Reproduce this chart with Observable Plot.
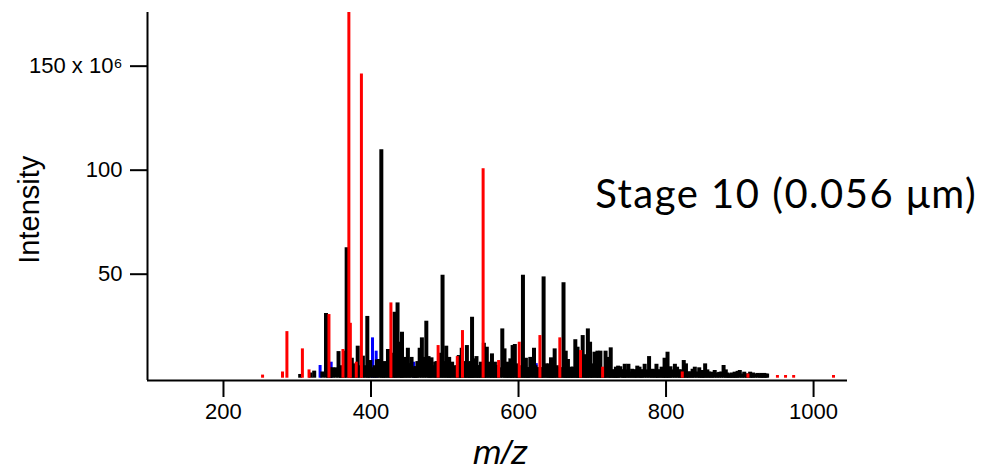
<!DOCTYPE html>
<html><head><meta charset="utf-8">
<script src="https://cdn.jsdelivr.net/npm/d3@7"></script>
<script src="https://cdn.jsdelivr.net/npm/@observablehq/plot@0.6"></script>
<style>body{margin:0;background:#fff;} svg{display:block}</style>
</head><body><div id="chart"></div>
<script>
// Black peaks (m/z, intensity x10^6)
const blackMz = [304,318,323,334,339,348,352,356,364,367,374,376,382,385,389,395,399,403,408,411,414,418,423,427,432,436,439,442,445,450,455,458,460,463,466,469,475,478,482,487,489,492,494,497,502,506,510,513,515,519,523,526,530,534,537,540,543,546,549,553,557,560,564,568,570,572,578,581,585,587,589,592,595,597,600,601,606,610,613,616,621,623,626,630,634,637,639,641,644,646,649,652,656,658,661,664,667,669,671,674,677,680,684,687,691,694,697,700,703,707,711,718,721,725,729,732,735,738,741,744,749,754,757,761,764,768,771,777,782,787,791,794,798,802,806,812,815,820,824,827,831,836,839,845,849,853,856,861,866,872,878,881,885,889,893,897,900,906,909,914,918,924,929,933,937,
  342,345,359,361,371,379,392,397,405,416,420,425,430,434,441,447,452,461,472,480,485,499,504,508,517,521,528,532,535,539,545,551,555,562,566,575,583,591,599,604,608,612,618,628,632,643,648,654,663,666,673,679,682,689,693,699,705,709,713,716,723,727,731,734,743,747,752,759,766,774,780,785,789,796,800,804,809,818,822,829,834,842,847,851,858,863,869,875,883,887,891,895,903,911,916,921,927,931,935];
const blackInt = [1.8,2.5,3.4,3,31.1,5,5,12.8,13,62.7,9.6,6.9,15.4,6,10.6,29.7,8.5,5,8.8,9,109.8,8,13.8,10,31.7,36.2,17.3,22.1,10,14.4,10,5,5.6,8,14.4,19.4,27.4,10.4,9.8,7.7,8,6,12,49.5,15.4,10,7.7,6,5,10.9,14.4,8,15.7,7.7,29.3,9.3,10.4,6,7.7,16.8,14.9,7.7,11.7,7.7,6,6,23.7,14.1,7.7,6,9.3,15.7,16.2,6.9,5,5,49.5,9.6,5,10,14.4,6,5,5,48.7,6.9,5,6.9,9.8,6,14.1,6,5,5,45.9,13,9,5,5.3,5.3,18.5,14.9,5,20.5,11.3,23.7,17.3,6.9,12.5,13,13,13,10,14.6,4,5.3,5.8,5.5,4,6.7,6.7,4.3,4,5.8,5.3,4,6.7,10.4,4.3,6.7,4,5.3,9.6,12.5,5.5,6.7,5.3,4,8.5,6.9,3,4.3,5.3,5,3.7,6.9,4,2.9,3.7,2.8,6.1,4,2,2.5,2.9,3.3,3.7,2.9,2,2.9,2.5,2.3,2.3,2.3,2,
  4,5,6,5,5,6,6,8,6,7,6,9,12,14,12,8,7,5,10,8,6,8,7,6,6,7,7,6,8,7,6,5,6,6,5,5,6,6,5,6,5,5,6,5,5,5,5,5,5,5,5,5,6,6,5,5,5,5,4,5,5,4,3,4,4,4,3,4,4,4,4,4,4,4,5,4,4,4,3,3,3,3,3,3,3,2.5,2.5,3,2.5,2,2,2,2,2,2,2,2,2,2];
// Red peaks
const redMz = [253,280,286,307,316,343,362,370,372,380,387,427,491,517,524,552,573,601,629,656,684,714,822,911,951,962,973,1027];
const redInt = [1.5,3,22.4,14.1,4,30.6,13.8,176,26.4,7.7,146.2,36.2,15.7,10.4,22.9,100.7,8.5,17.3,20.5,19.4,13.3,5.3,3,2,1.3,1.3,1.3,1.3];
// Blue peaks
const blueMz = [331,346,402,407,458,613,624,716];
const blueInt = [6.1,7.7,19.4,13,7.7,5,7,1.5];

const xTicks = [200,400,600,800,1000];
const yTicks = [50,100,150];
const yTickLabels = ["50","100","150 x 10\u2076"];
const xTitle = "m/z", yTitle = "Intensity";
const annotation = "Stage 10 (0.056 \u03BCm)";

const mk = (mz, v) => mz.map((m, i) => ({mz: m, v: v[i]}));
const black = mk(blackMz, blackInt), red = mk(redMz, redInt), blue = mk(blueMz, blueInt);

const xDom = [97, 1046], yDom = [-1.1, 175.8];
const chart = Plot.plot({
  width: 989, height: 472,
  marginLeft: 147, marginRight: 142, marginTop: 12, marginBottom: 92,
  style: {fontFamily: "'Liberation Sans', Arial, sans-serif", background: "white", color: "black", overflow: "visible"},
  x: {domain: xDom},
  y: {domain: yDom},
  marks: [
    Plot.ruleX(blue, {x: "mz", y1: 0, y2: "v", stroke: "#0000ff", strokeWidth: 3, clip: true}),
    Plot.ruleX(black, {x: "mz", y1: 0, y2: "v", stroke: "black", strokeWidth: 4, clip: true}),
    Plot.ruleX(red, {x: "mz", y1: 0, y2: "v", stroke: "#ff0000", strokeWidth: 3, clip: true}),
    Plot.ruleY([yDom[0]], {stroke: "black", strokeWidth: 2}),
    Plot.ruleX([xDom[0]], {stroke: "black", strokeWidth: 2}),
    Plot.axisX(xTicks, {tickSize: 17, tickPadding: 6, fontSize: 22, strokeWidth: 2, label: null, tickFormat: d => String(d)}),
    Plot.axisY(yTicks, {tickSize: 17, tickPadding: 8, fontSize: 22, strokeWidth: 2, label: null, tickFormat: d => yTickLabels[yTicks.indexOf(d)]}),
    Plot.text([yTitle], {x: -62, y: 81, rotate: -90, fontSize: 29, text: d => d}),
    Plot.text([xTitle], {frameAnchor: "bottom", dx: 3, dy: 83, fontSize: 34, fontStyle: "italic", text: d => d}),
    Plot.text([annotation], {x: 704, y: 88, textAnchor: "start", fontSize: 40, fontFamily: "Lato, 'Open Sans', sans-serif", text: d => d})
  ]
});
chart.querySelectorAll("text").forEach(t => { if (t.textContent === annotation) t.setAttribute("letter-spacing", "1.5"); });
document.getElementById("chart").appendChild(chart);
</script></body></html>
